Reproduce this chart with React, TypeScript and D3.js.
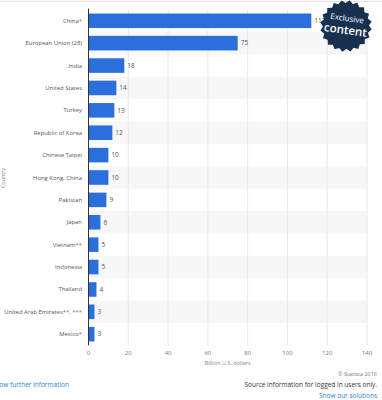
import React from "react";
import * as d3 from "d3";

const countries = [
  "China*",
  "European Union (28)",
  "India",
  "United States",
  "Turkey",
  "Republic of Korea",
  "Chinese Taipei",
  "Hong Kong, China",
  "Pakistan",
  "Japan",
  "Vietnam**",
  "Indonesia",
  "Thailand",
  "United Arab Emirates**, ***",
  "Mexico*",
];
const values = [112, 75, 18, 14, 13, 12, 10, 10, 9, 6, 5, 5, 4, 3, 3];
const xTicks = [0, 20, 40, 60, 80, 100, 120, 140];

const W = 382;
const H = 400;
const FONT = "'Open Sans', sans-serif";

export default function App() {
  const x = d3.scaleLinear().domain([0, 140]).range([88.5, 367]);
  const y = d3
    .scaleBand<string>()
    .domain(countries)
    .range([9.6, 345.4])
    .paddingInner(0.35)
    .paddingOuter(0.175);
  const step = y.step();
  const top = 9.6;
  const bottom = 345.4;

  // starburst badge
  const N = 20;
  const R = 26;
  const r = 23;
  const pts: [number, number][] = d3.range(2 * N).map((i) => {
    const a = (i * Math.PI) / N;
    const rad = i % 2 === 0 ? R : r;
    return [rad * Math.cos(a), rad * Math.sin(a)];
  });
  const star = d3.line()(pts) + "Z";

  const splitLabel = (s: string) => {
    const m = s.match(/^(.*?)(\**(, \*+)?)$/);
    return m ? [m[1], m[2]] : [s, ""];
  };

  return (
    <svg
      width={W}
      height={H}
      style={{ position: "absolute", left: 0, top: 0, background: "#fff" }}
      fontFamily={FONT}
    >
      <line x1={0} x2={W} y1={1.5} y2={1.5} stroke="#eadede" strokeWidth={1} />
      {/* stripes */}
      {countries.map((c, i) =>
        i % 2 === 1 ? (
          <rect
            key={"s" + c}
            x={x(0)}
            y={(y(c) as number) - (step * 0.175)}
            width={x(140) - x(0)}
            height={step}
            fill="#f7f7f7"
          />
        ) : null
      )}
      {/* gridlines */}
      {xTicks.slice(1).map((t) => (
        <line
          key={"g" + t}
          x1={x(t)}
          x2={x(t)}
          y1={top}
          y2={bottom}
          stroke="#e8e8e8"
          strokeWidth={1}
        />
      ))}
      {/* bars */}
      {countries.map((c, i) => (
        <rect
          key={"b" + c}
          x={x(0)}
          y={y(c)}
          width={x(values[i]) - x(0)}
          height={y.bandwidth()}
          fill="#2a6fdb"
        />
      ))}
      {/* value labels */}
      {countries.map((c, i) => (
        <text
          key={"v" + c}
          x={x(values[i]) + 3}
          y={(y(c) as number) + y.bandwidth() / 2}
          dy="0.35em"
          fontSize={6.5}
          fill="#555"
        >
          {values[i]}
        </text>
      ))}
      {/* country labels */}
      {countries.map((c) => {
        const [name, star] = splitLabel(c);
        return (
          <text
            key={"c" + c}
            x={82}
            y={(y(c) as number) + y.bandwidth() / 2}
            dy="0.35em"
            fontSize={5.9}
            fill="#555"
            textAnchor="end"
          >
            {name}
            {star ? (
              <tspan fill={c === "Mexico*" ? "#d04040" : "#777"}>{star}</tspan>
            ) : null}
          </text>
        );
      })}
      {/* axis line */}
      <line x1={x(0)} x2={x(0)} y1={top - 1} y2={bottom} stroke="#333" strokeWidth={1} />
      {/* x ticks */}
      {xTicks.map((t) => (
        <text
          key={"t" + t}
          x={x(t)}
          y={355}
          fontSize={6}
          fill="#777"
          textAnchor="middle"
        >
          {t}
        </text>
      ))}
      <text x={(x(0) + x(140)) / 2} y={365} fontSize={5.5} fill="#888" textAnchor="middle">
        Billion U.S. dollars
      </text>
      <text
        transform={`translate(5,178) rotate(-90)`}
        fontSize={5.5}
        fill="#888"
        textAnchor="middle"
      >
        Country
      </text>
      {/* badge */}
      <g transform="translate(346,26) rotate(8)">
        <path d={star} fill="#17304f" />
        <text x={0} y={-5} fontSize={8} fill="#fff" textAnchor="middle">
          Exclusive
        </text>
        <text x={0} y={8} fontSize={11.5} fill="#fff" textAnchor="middle" fontWeight={600}>
          content
        </text>
      </g>
      {/* footer */}
      <text x={69} y={387} fontSize={6.5} fill="#2d7fd1" textAnchor="end">
        Show further information
      </text>
      <text x={377} y={376} fontSize={5.5} fill="#777" textAnchor="end">
        © Statista 2016
      </text>
      <text x={377} y={387} fontSize={6.5} fill="#333" textAnchor="end">
        Source information for logged in users only.
      </text>
      <text x={377} y={397.5} fontSize={6.5} fill="#2d7fd1" textAnchor="end">
        Show our solutions
      </text>
    </svg>
  );
}
